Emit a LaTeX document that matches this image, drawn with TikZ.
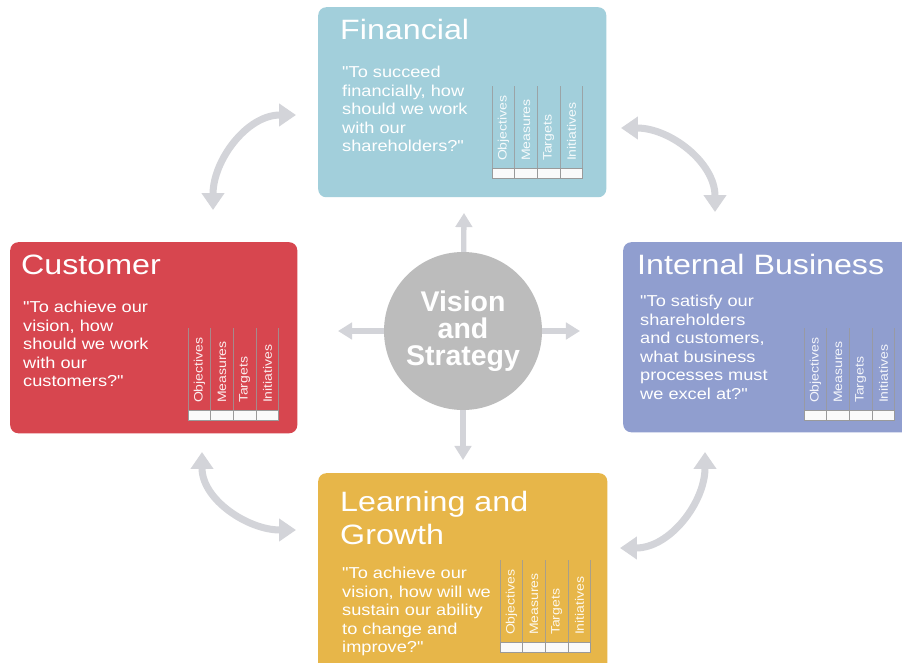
\documentclass[tikz,border=0pt]{standalone}
\usepackage{fontspec}
\setmainfont{Liberation Sans}
\newfontfamily\cardfont[FakeStretch=1.15]{Liberation Sans}
\usetikzlibrary{arrows.meta, positioning, calc}

\definecolor{finblue}{HTML}{A2CFDB}
\definecolor{cusred}{HTML}{D7464F}
\definecolor{ibpblue}{HTML}{909ECF}
\definecolor{lrngold}{HTML}{E7B649}
\definecolor{vsgray}{HTML}{BCBCBC}
\definecolor{flowgray}{HTML}{D3D4D9}
\definecolor{tabline}{HTML}{9A9A9A}

\tikzset{
  card/.style={fill=#1, rounded corners=6.8pt, inner sep=0pt, anchor=north west},
  cardtitle/.style={text=white, inner sep=0pt, anchor=north west, align=left,
    font=\cardfont\fontsize{23.9}{28.2}\selectfont},
  cardtext/.style={text=white, inner sep=0pt, anchor=north west, align=left,
    font=\cardfont\fontsize{13.5}{15.8}\selectfont},
  cell/.style={fill=white!96!gray, draw=tabline, line width=0.6pt, inner sep=0pt,
    minimum width=0.681cm, minimum height=0.285cm},
  colline/.style={draw=tabline, draw opacity=0.8, line width=0.7pt},
  collabel/.style={text=white, text opacity=0.9, rotate=90, anchor=west, inner sep=0pt,
    font=\cardfont\fontsize{10.4}{11}\selectfont},
  hub/.style={circle, fill=vsgray, inner sep=0pt, minimum size=4.74cm, text=white,
    align=center, font=\bfseries\fontsize{24.3}{23}\selectfont},
  spoke/.style={draw=flowgray, line width=4.5pt, -{Triangle[width=14pt, length=12pt]}},
  cycle/.style={draw=flowgray, line width=6pt,
    {Triangle[width=18.8pt, length=14.5pt]}-{Triangle[width=18.8pt, length=14.5pt]}},
}

\begin{document}
\begin{tikzpicture}[x=0.03cm, y=-0.03cm]
  \useasboundingbox (0,0) rectangle (902,662);
  \clip (0,0) rectangle (902,662);
  \fill[white] (0,0) rectangle (902,662);

  % the four perspectives
  \node[card=finblue, minimum width=8.64cm, minimum height=5.7cm] (fin) at (318,7) {};
  \node[card=cusred, minimum width=8.61cm, minimum height=5.73cm] (cus) at (10,242) {};
  \node[card=ibpblue, minimum width=9cm, minimum height=5.7cm] (ibp) at (623,242) {};
  \node[card=lrngold, minimum width=8.67cm, minimum height=6cm] (lrn) at (318,473) {};

  \node[cardtitle] (fin-title) at (340,19) {Financial};
  \node[cardtitle] (cus-title) at (21,255) {Customer};
  \node[cardtitle] (ibp-title) at (637,254) {Internal Business};
  \node[cardtitle] (lrn-title) at (340,491) {Learning and\\Growth};

  \node[cardtext] (fin-text) at (342,66)
    {"To succeed\\financially, how\\should we work\\with our\\shareholders?"};
  \node[cardtext] (cus-text) at (23,301)
    {"To achieve our\\vision, how\\should we work\\with our\\customers?"};
  \node[cardtext] (ibp-text) at (640,295)
    {"To satisfy our\\shareholders\\and customers,\\what business\\processes must\\we excel at?"};
  \node[cardtext] (lrn-text) at (342,567)
    {"To achieve our\\vision, how will we\\sustain our ability\\to change and\\improve?"};

  % objectives / measures / targets / initiatives columns
  \foreach \tb/\tx/\ty in {fin/492/178, cus/188/420, ibp/804/420, lrn/500/652} {
    \foreach \i in {0,...,4}
      \draw[colline] ({\tx+\i*22.7},\ty) -- ++(0,-92);
    \foreach \i/\lab in {0/Objectives, 1/Measures, 2/Targets, 3/Initiatives} {
      \node[cell] (\tb-cell\i) at ({\tx+\i*22.7+11.35},{\ty-4.75}) {};
      \node[collabel] (\tb-lab\i) at ($(\tb-cell\i.north)+(0,-7)$) {\lab};
    }
  }

  % centre and its spokes
  \node[hub] (vs) at (463,331) {Vision\\and\\Strategy};
  \coordinate (vs-n) at (464,213);
  \coordinate (vs-e) at (580,331);
  \coordinate (vs-s) at (463,460);
  \coordinate (vs-w) at (338,331);
  \foreach \d in {n,e,s,w}
    \draw[spoke] (vs) -- (vs-\d);

  % cycle arrows between the cards
  \coordinate (tl-a) at (213,210);
  \coordinate (tl-b) at (296,115);
  \coordinate (tr-a) at (621,128);
  \coordinate (tr-b) at (715,212);
  \coordinate (bl-a) at (202,452);
  \coordinate (bl-b) at (296,530);
  \coordinate (br-a) at (705,452);
  \coordinate (br-b) at (620,548);
  \draw[cycle] (tl-a) to[out=90, in=180] (tl-b);
  \draw[cycle] (tr-a) to[out=0, in=90] (tr-b);
  \draw[cycle] (bl-a) to[out=-90, in=180] (bl-b);
  \draw[cycle] (br-a) to[out=-90, in=0] (br-b);
\end{tikzpicture}
\end{document}
